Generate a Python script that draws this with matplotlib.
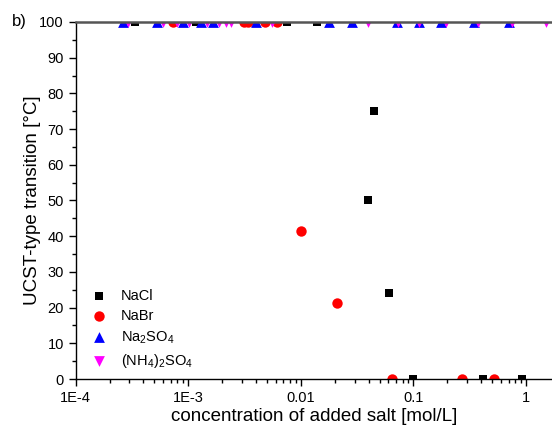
import numpy as np
import matplotlib
matplotlib.use('Agg')
import matplotlib.pyplot as plt
from matplotlib.ticker import LogLocator, MultipleLocator, NullFormatter

plt.rcParams['font.family'] = ['Liberation Sans', 'DejaVu Sans']
plt.rcParams['mathtext.default'] = 'regular'

# transition temperatures vs. salt concentration (100 = above measured range, 0 = below)
nacl_c = [3.4e-4, 1.17e-3, 7.5e-3, 0.0139, 0.0446, 0.0397, 0.061, 0.1, 0.417, 0.925]
nacl_t = [100, 100, 100, 100, 75, 50, 24, 0, 0, 0]

nabr_c = [7.3e-4, 3.1e-3, 3.4e-3, 4.8e-3, 6.1e-3, 0.01, 0.021, 0.065, 0.268, 0.522]
nabr_t = [100, 100, 100, 100, 100, 41.5, 21.4, 0, 0, 0]

na2so4_c = [2.61e-4, 5.27e-4, 8.97e-4, 1.30e-3, 1.66e-3, 3.99e-3, 0.0176, 0.0284,
            0.0713, 0.112, 0.175, 0.344, 0.705]
na2so4_t = [100] * len(na2so4_c)

nh42so4_c = [2.94e-4, 5.96e-4, 8.02e-4, 1.01e-3, 1.47e-3, 1.87e-3, 2.16e-3, 2.39e-3,
             5.54e-3, 0.0394, 0.0728, 0.112, 0.194, 0.374, 0.75, 1.50]
nh42so4_t = [100] * len(nh42so4_c)

xticks = [1e-4, 1e-3, 1e-2, 1e-1, 1]
xtick_labels = ['1E-4', '1E-3', '0.01', '0.1', '1']

fig = plt.figure(figsize=(5.52, 4.37), dpi=100)
ax = fig.add_axes([0.137, 0.1327, 0.863, 0.817])

# scatter so markers sitting on the axis limits get cut by the frame
ax.scatter(nacl_c, nacl_t, marker='s', s=36, c='black', linewidths=0, label='NaCl')
ax.scatter(nabr_c, nabr_t, marker='o', s=56, c='red', linewidths=0, label='NaBr')
ax.scatter(na2so4_c, na2so4_t, marker='^', s=60, c='blue', linewidths=0, label='Na$_2$SO$_4$')
ax.scatter(nh42so4_c, nh42so4_t, marker='v', s=60, c='magenta', linewidths=0,
           label='(NH$_4$)$_2$SO$_4$')

ax.set_xscale('log')
ax.set_xlim(1e-4, 10 ** 0.23)
ax.set_ylim(0, 100)

ax.set_xticks(xticks)
ax.set_xticklabels(xtick_labels)
ax.xaxis.set_minor_locator(LogLocator(base=10, subs=np.arange(2, 10), numticks=20))
ax.xaxis.set_minor_formatter(NullFormatter())
ax.yaxis.set_major_locator(MultipleLocator(10))
ax.yaxis.set_minor_locator(MultipleLocator(5))

ax.tick_params(which='major', direction='out', length=5, width=1, labelsize=10.5, colors='black')
ax.tick_params(which='minor', direction='out', length=3, width=1)

ax.spines['right'].set_visible(False)
ax.spines['top'].set_color('#555555')
ax.spines['top'].set_linewidth(1.8)
ax.spines['left'].set_linewidth(1)
ax.spines['bottom'].set_linewidth(1)

ax.set_xlabel('concentration of added salt [mol/L]', fontsize=13.5, labelpad=2)
ax.set_ylabel('UCST-type transition [°C]', fontsize=13.5, labelpad=-1)

fig.text(0.022, 0.95, 'b)', fontsize=12, va='center', ha='left')

ax.legend(loc='lower left', bbox_to_anchor=(0.0, -0.015), frameon=False, fontsize=10.5,
          handlelength=1.2, handletextpad=0.9, labelspacing=0.42, borderaxespad=0.6,
          scatterpoints=1)

fig.savefig('out.png', dpi=100)
